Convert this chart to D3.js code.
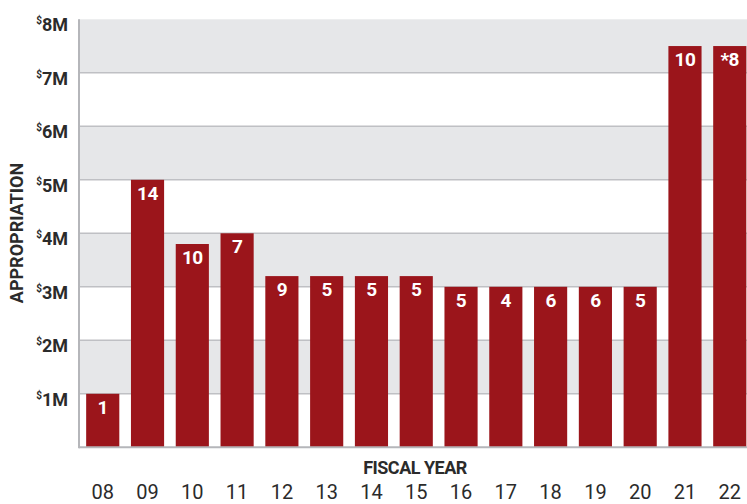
<!DOCTYPE html>
<html>
<head>
<meta charset="utf-8">
<script src="https://cdn.jsdelivr.net/npm/d3@7"></script>
<style>
  body { margin: 0; background: #fff; }
  text { font-family: "Roboto", sans-serif; }
</style>
</head>
<body>
<div id="chart"></div>
<script>
// fiscal years, appropriation ($M) and count printed in each bar
const years = ['08', '09', '10', '11', '12', '13', '14', '15', '16', '17', '18', '19', '20', '21', '22'];
const appropriation = [1, 5, 3.8, 4, 3.2, 3.2, 3.2, 3.2, 3, 3, 3, 3, 3, 7.5, 7.5];
const counts = ['1', '14', '10', '7', '9', '5', '5', '5', '5', '4', '6', '6', '5', '10', '*8'];
const yTicks = [1, 2, 3, 4, 5, 6, 7, 8];

const W = 747, H = 504;
const plotLeft = 79, plotTop = 19.3, plotBottom = 447.3;

const svg = d3.select('#chart')
  .append('svg')
  .attr('width', W)
  .attr('height', H);

const x = d3.scaleBand()
  .domain(years)
  .range([plotLeft, 753.5])
  .paddingInner(0.26)
  .paddingOuter(0.16);

const y = d3.scaleLinear().domain([0, 8]).range([plotBottom, plotTop]);

// alternating background bands
const bands = d3.range(0, 8);
svg.selectAll('rect.band')
  .data(bands)
  .enter().append('rect')
  .attr('class', 'band')
  .attr('x', plotLeft)
  .attr('width', W - plotLeft)
  .attr('y', d => y(d + 1))
  .attr('height', d => y(d) - y(d + 1))
  .attr('fill', d => d % 2 === 1 ? '#e6e7e9' : '#ffffff');

// gridlines
svg.selectAll('line.grid')
  .data(yTicks.slice(0, 7))
  .enter().append('line')
  .attr('x1', plotLeft).attr('x2', W)
  .attr('y1', d => y(d)).attr('y2', d => y(d))
  .attr('stroke', '#bfc0c4')
  .attr('stroke-width', 1.5);

// bars
svg.selectAll('rect.bar')
  .data(years)
  .enter().append('rect')
  .attr('class', 'bar')
  .attr('x', d => x(d))
  .attr('width', x.bandwidth())
  .attr('y', (d, i) => y(appropriation[i]))
  .attr('height', (d, i) => y(0) - y(appropriation[i]))
  .attr('fill', '#9b151b');

// counts inside bars
svg.selectAll('text.count')
  .data(years)
  .enter().append('text')
  .attr('class', 'count')
  .attr('x', d => x(d) + x.bandwidth() / 2)
  .attr('y', (d, i) => y(appropriation[i]) + 20)
  .attr('text-anchor', 'middle')
  .attr('fill', '#fff')
  .attr('font-size', 19)
  .attr('font-weight', 'bold')
  .attr('letter-spacing', -0.5)
  .text((d, i) => counts[i]);

// axis lines
svg.append('line')
  .attr('x1', plotLeft).attr('x2', plotLeft)
  .attr('y1', plotTop).attr('y2', plotBottom + 1)
  .attr('stroke', '#b5b6ba').attr('stroke-width', 2);
svg.append('line')
  .attr('x1', plotLeft).attr('x2', W)
  .attr('y1', plotBottom).attr('y2', plotBottom)
  .attr('stroke', '#b5b6ba').attr('stroke-width', 2);

// y tick labels with superscript $
const yl = svg.selectAll('text.ytick')
  .data(yTicks)
  .enter().append('text')
  .attr('class', 'ytick')
  .attr('x', 68)
  .attr('y', d => y(d) + 12)
  .attr('text-anchor', 'end')
  .attr('fill', '#2b2b2b')
  .attr('font-weight', 'bold')
  .attr('font-size', 18);
yl.append('tspan').attr('font-size', 10).attr('dy', -7).text('$');
yl.append('tspan').attr('dy', 7).text(d => d + 'M');

// x tick labels
svg.selectAll('text.xtick')
  .data(years)
  .enter().append('text')
  .attr('class', 'xtick')
  .attr('x', d => x(d) + x.bandwidth() / 2)
  .attr('y', 499)
  .attr('text-anchor', 'middle')
  .attr('fill', '#2b2b2b')
  .attr('font-size', 20)
  .text(d => d);

// axis titles
svg.append('text')
  .attr('x', 415).attr('y', 474)
  .attr('text-anchor', 'middle')
  .attr('fill', '#2b2b2b')
  .attr('font-size', 18)
  .attr('font-weight', 'bold')
  .attr('letter-spacing', -0.5)
  .text('FISCAL YEAR');

svg.append('text')
  .attr('transform', 'translate(23,233) rotate(-90)')
  .attr('text-anchor', 'middle')
  .attr('fill', '#2b2b2b')
  .attr('font-size', 18)
  .attr('font-weight', 'bold')
  .text('APPROPRIATION');
</script>
</body>
</html>
